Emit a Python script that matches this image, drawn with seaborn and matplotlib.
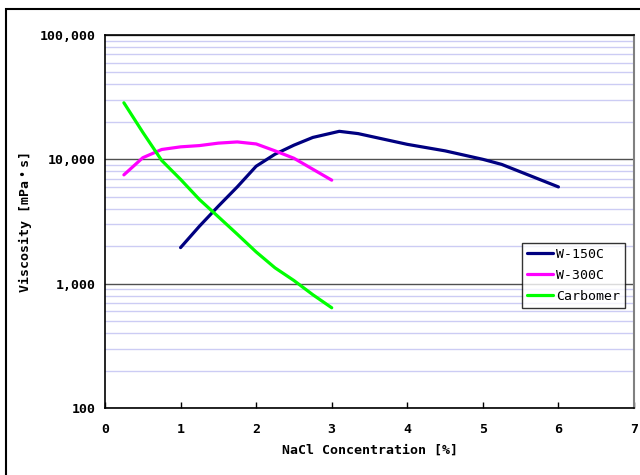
import numpy as np
import pandas as pd
import matplotlib
matplotlib.use('Agg')
import matplotlib.pyplot as plt
import matplotlib.ticker as mticker
from matplotlib.patches import Rectangle
import seaborn as sns

# ---- data ----
w150_x = [1.0, 1.25, 1.5, 1.75, 2.0, 2.25, 2.5, 2.75, 3.1, 3.35, 4.0, 4.5, 5.0, 5.25, 6.0]
w150_y = [1950, 2900, 4200, 6000, 8800, 11000, 13000, 15000, 16800, 16100, 13200, 11700, 10000, 9100, 6000]

w300_x = [0.25, 0.5, 0.75, 1.0, 1.25, 1.5, 1.75, 2.0, 2.25, 2.5, 3.0]
w300_y = [7500, 10300, 12000, 12600, 12900, 13500, 13800, 13300, 11700, 10200, 6800]

carb_x = [0.25, 0.5, 0.75, 1.0, 1.25, 1.5, 1.75, 2.0, 2.25, 2.5, 2.75, 3.0]
carb_y = [28500, 16500, 9800, 6900, 4750, 3450, 2500, 1800, 1340, 1060, 815, 640]

series_names = ['W-150C', 'W-300C', 'Carbomer']
series_colors = ['#000080', '#FF00FF', '#00FF00']

df = pd.concat([
    pd.DataFrame({'x': w150_x, 'y': w150_y, 'name': 'W-150C'}),
    pd.DataFrame({'x': w300_x, 'y': w300_y, 'name': 'W-300C'}),
    pd.DataFrame({'x': carb_x, 'y': carb_y, 'name': 'Carbomer'}),
])

# ---- plot ----
sns.set_style('white')
plt.rcParams['font.family'] = ['DejaVu Sans Mono', 'Noto Sans CJK JP']
plt.rcParams['text.color'] = 'black'
plt.rcParams['axes.labelcolor'] = 'black'
plt.rcParams['xtick.color'] = 'black'
plt.rcParams['ytick.color'] = 'black'

fig = plt.figure(figsize=(6.4, 4.75), dpi=100)
ax = fig.add_axes([105 / 640, 1 - 408 / 475, 529 / 640, 373 / 475])

# outer chart frame (cut off at right/bottom like the reference)
fig.patches.append(Rectangle((6 / 640, -0.1), 1.2, 1 - 9 / 475 + 0.1,
                             transform=fig.transFigure, fill=False,
                             edgecolor='black', linewidth=1.5))

sns.lineplot(data=df, x='x', y='y', hue='name', hue_order=series_names,
             palette=series_colors, sort=False, linewidth=2.3, ax=ax,
             estimator=None)

ax.set_yscale('log')
ax.set_xlim(0, 7)
ax.set_ylim(100, 100000)

# grid: light lavender minor, dark major
ax.yaxis.set_minor_locator(mticker.LogLocator(base=10, subs=np.arange(2, 10)))
ax.yaxis.set_minor_formatter(mticker.NullFormatter())
ax.grid(True, which='minor', axis='y', color='#ccccf4', linewidth=1.0)
ax.grid(True, which='major', axis='y', color='#505050', linewidth=1.0)
ax.grid(False, axis='x')
ax.set_axisbelow(True)

ax.yaxis.set_major_formatter(mticker.FuncFormatter(lambda v, p: f'{int(v):,}'))
ax.set_yticks([100, 1000, 10000, 100000])
ax.set_xticks(range(0, 8))

ax.tick_params(axis='y', which='both', length=0, labelsize=9.5, pad=6.5)
ax.tick_params(axis='x', which='major', direction='in', length=4, width=1,
               labelsize=9.5, pad=11, bottom=True)
for lab in ax.get_xticklabels() + ax.get_yticklabels():
    lab.set_fontweight('bold')

for side in ['left', 'bottom', 'top']:
    ax.spines[side].set_color('black')
    ax.spines[side].set_linewidth(1.2)
ax.spines['right'].set_color('#808080')
ax.spines['right'].set_linewidth(1.5)

ax.set_xlabel('NaCl Concentration [%]', fontsize=9.5, fontweight='bold', labelpad=5)
ax.set_ylabel('Viscosity [mPa・s]', fontsize=9.5, fontweight='bold', labelpad=6)

leg = ax.legend(loc='upper left', bbox_to_anchor=(417 / 529, 1 - 208 / 373),
                frameon=True, fancybox=False, edgecolor='black', fontsize=9.5,
                handlelength=2.0, handletextpad=0.25, borderpad=0.35,
                labelspacing=0.62, borderaxespad=0)
leg.get_frame().set_linewidth(1.0)
for line in leg.get_lines():
    line.set_linewidth(2.3)

fig.savefig('out.png', dpi=100)
